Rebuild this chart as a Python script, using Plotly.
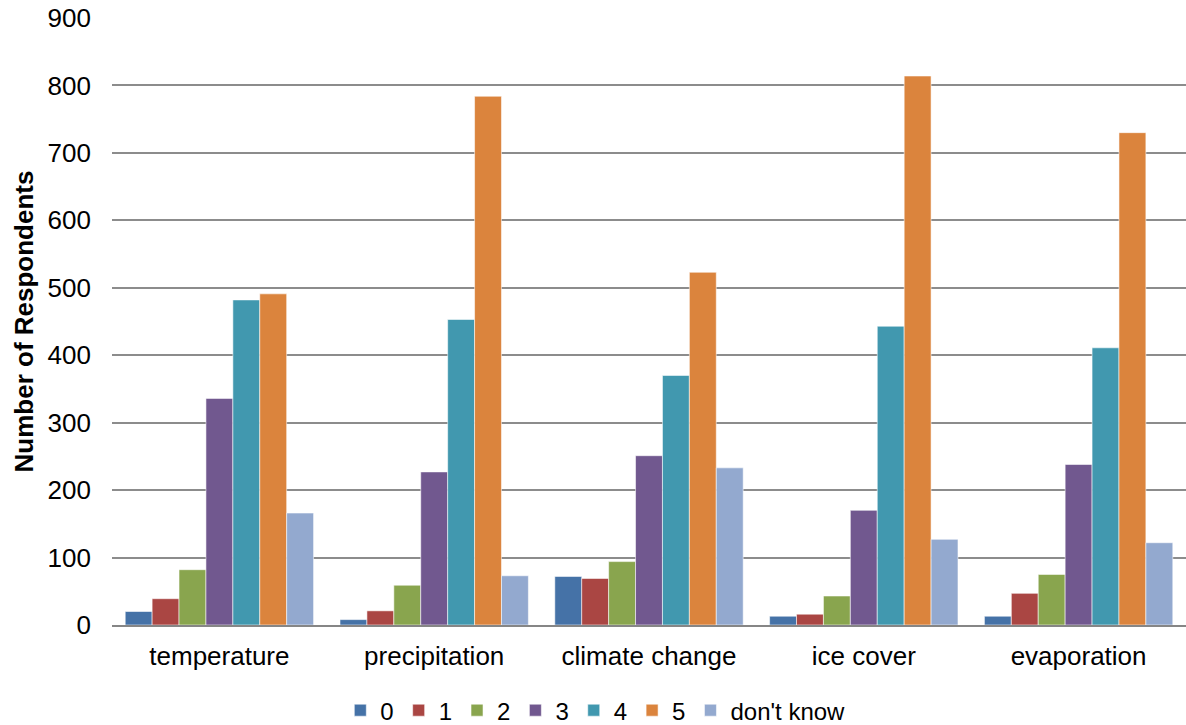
import plotly.graph_objects as go

categories = ["temperature", "precipitation", "climate change", "ice cover", "evaporation"]
series_names = ["0", "1", "2", "3", "4", "5", "don't know"]

values_0 = [20, 8, 72, 13, 13]
values_1 = [39, 21, 69, 16, 47]
values_2 = [82, 59, 94, 43, 75]
values_3 = [336, 227, 251, 170, 238]
values_4 = [482, 453, 370, 443, 411]
values_5 = [491, 784, 523, 814, 730]
values_dk = [166, 73, 233, 127, 122]

y_ticks = [0, 100, 200, 300, 400, 500, 600, 700, 800, 900]

all_values = [values_0, values_1, values_2, values_3, values_4, values_5, values_dk]
colors = ["#4572A7", "#AA4643", "#89A54E", "#71588F", "#4198AF", "#DB843D", "#93A9CF"]

fig = go.Figure()
for name, vals, col in zip(series_names, all_values, colors):
    fig.add_trace(go.Bar(
        name=name,
        x=categories,
        y=vals,
        marker=dict(color=col, line=dict(color="rgba(255,255,255,0.55)", width=1)),
    ))

font_family = "Liberation Sans, Arial, sans-serif"

fig.update_layout(
    width=1186,
    height=725,
    barmode="group",
    bargap=0.123,
    bargroupgap=0,
    plot_bgcolor="white",
    paper_bgcolor="white",
    margin=dict(l=112, r=0, t=18, b=100, autoexpand=False),
    font=dict(family=font_family, size=26, color="#000000"),
    showlegend=True,
    legend=dict(
        orientation="h",
        x=0.45,
        xanchor="center",
        y=-0.141,
        yanchor="middle",
        font=dict(size=24),
        itemwidth=30,
        traceorder="normal",
    ),
    xaxis=dict(
        showgrid=False,
        showline=True,
        linecolor="#868686",
        linewidth=1.5,
        ticks="",
        tickfont=dict(size=26),
        ticklabelstandoff=7,
        automargin=False,
    ),
    yaxis=dict(
        range=[0, 900],
        tickvals=y_ticks,
        showgrid=True,
        gridcolor="#8c8c8c",
        gridwidth=1.5,
        zeroline=False,
        showline=False,
        ticks="",
        ticklen=0,
        tickfont=dict(size=26),
        ticklabelstandoff=20,
        automargin=False,
        title=dict(text="<b>Number of Respondents</b>", font=dict(size=26), standoff=6),
    ),
)

fig.write_html("out.html")
